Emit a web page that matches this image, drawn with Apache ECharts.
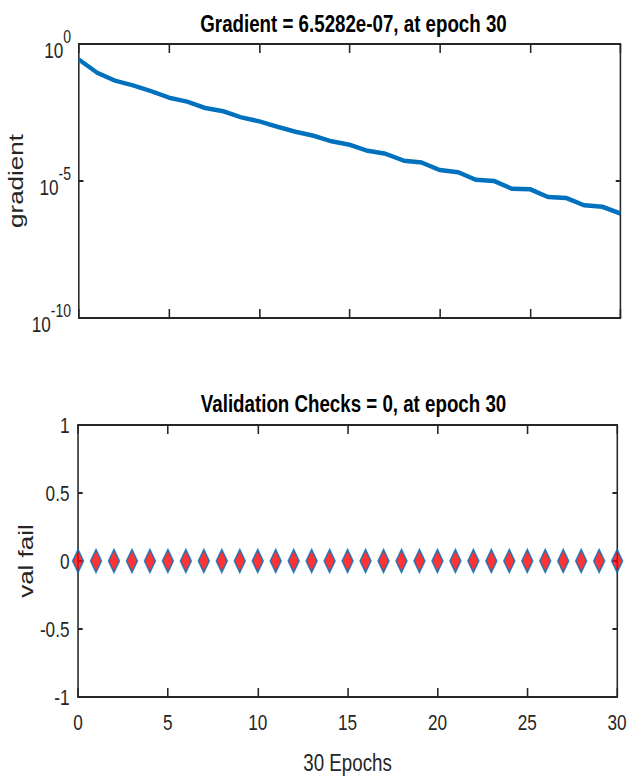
<!DOCTYPE html>
<html>
<head>
<meta charset="utf-8">
<title>Gradient / Validation Checks</title>
<script src="https://cdn.jsdelivr.net/npm/echarts@6/dist/echarts.min.js"></script>
<style>
    body { margin: 0; background: #fff; overflow: hidden; }
    /* the reference figure is squeezed horizontally, so draw wide and squeeze */
    #main { width: 806px; height: 776px; transform: scaleX(0.7804); transform-origin: 0 0; }
</style>
</head>
<body>
<div id="main"></div>
<script>
    var epochs = [0, 1, 2, 3, 4, 5, 6, 7, 8, 9, 10, 11, 12, 13, 14, 15,
        16, 17, 18, 19, 20, 21, 22, 23, 24, 25, 26, 27, 28, 29, 30];
    var gradient = [0.27, 0.091, 0.046, 0.031, 0.019, 0.011, 0.0079, 0.0046, 0.0035, 0.0021,
        0.0015, 9.5e-4, 6.3e-4, 4.5e-4, 2.8e-4, 2.1e-4, 1.26e-4, 9.8e-5, 5.5e-5, 4.7e-5,
        2.5e-5, 2.1e-5, 1.1e-5, 1.0e-5, 5.2e-6, 5.0e-6, 2.6e-6, 2.4e-6, 1.3e-6, 1.15e-6, 6.5282e-7];
    var valFail = [0, 0, 0, 0, 0, 0, 0, 0, 0, 0, 0, 0, 0, 0, 0, 0,
        0, 0, 0, 0, 0, 0, 0, 0, 0, 0, 0, 0, 0, 0, 0];
    var xTicks = [0, 5, 10, 15, 20, 25, 30];
    var gradTicks = [1e-10, 1e-5, 1];
    var valTicks = [-1, -0.5, 0, 0.5, 1];

    var font = 'Liberation Sans, Arial, sans-serif';
    var ink = '#262626';
    var box = { show: true, onZero: false, lineStyle: { color: ink, width: 2 } };

    function xAxisOf(grid, pos, labels) {
        return {
            gridIndex: grid, type: 'value', position: pos,
            min: xTicks[0], max: xTicks[xTicks.length - 1], interval: xTicks[1] - xTicks[0],
            axisLine: box,
            axisTick: { inside: true, length: 9, lineStyle: { color: ink, width: 2 } },
            axisLabel: { show: labels, margin: 14, fontSize: 22, fontFamily: font, color: ink },
            splitLine: { show: false },
            name: labels ? '30 Epochs' : '', nameLocation: 'middle', nameGap: 54,
            nameMoveOverlap: false,
            nameTextStyle: { fontSize: 24, fontFamily: font, color: ink }
        };
    }

    var myChart = echarts.init(document.getElementById('main'), null, { renderer: 'svg' });

    var option = {
        animation: false,
        title: [{
            text: 'Gradient = 6.5282e-07, at epoch 30',
            left: 448, top: 7, textAlign: 'center',
            textStyle: { fontSize: 24, fontWeight: 'bold', fontFamily: font, color: '#000' }
        }, {
            text: 'Validation Checks = 0, at epoch 30',
            left: 448, top: 387, textAlign: 'center',
            textStyle: { fontSize: 24, fontWeight: 'bold', fontFamily: font, color: '#000' }
        }],
        grid: [
            { left: 100, right: 11, top: 44, height: 274 },
            { left: 100, right: 11, top: 425, height: 272 }
        ],
        xAxis: [
            xAxisOf(0, 'bottom', false),
            xAxisOf(0, 'top', false),
            xAxisOf(1, 'bottom', true),
            xAxisOf(1, 'top', false)
        ],
        yAxis: [{
            gridIndex: 0, type: 'log', logBase: 10, position: 'left',
            min: gradTicks[0], max: gradTicks[gradTicks.length - 1], interval: 5,
            axisLine: box,
            axisTick: { inside: true, length: 6, lineStyle: { color: ink, width: 2 } },
            axisLabel: {
                margin: 10,
                formatter: function (v) {
                    return '{h| }{b|10}{s|' + Math.round(Math.log10(v)) + '}';
                },
                rich: {
                    h: { fontSize: 1, lineHeight: 34 },
                    b: { fontSize: 22, lineHeight: 22, verticalAlign: 'bottom', fontFamily: font, color: ink },
                    s: { fontSize: 18, lineHeight: 18, verticalAlign: 'top', fontFamily: font, color: ink }
                }
            },
            splitLine: { show: false },
            name: 'gradient', nameLocation: 'middle', nameGap: 67, nameMoveOverlap: false,
            nameTextStyle: { fontSize: 26, fontFamily: font, color: ink }
        }, {
            gridIndex: 0, type: 'log', logBase: 10, position: 'right',
            min: gradTicks[0], max: gradTicks[gradTicks.length - 1], interval: 5,
            axisLine: box,
            axisTick: { inside: true, length: 6, lineStyle: { color: ink, width: 2 } },
            axisLabel: { show: false },
            splitLine: { show: false }
        }, {
            gridIndex: 1, type: 'value', position: 'left',
            min: valTicks[0], max: valTicks[valTicks.length - 1], interval: valTicks[1] - valTicks[0],
            axisLine: box,
            axisTick: { inside: true, length: 6, lineStyle: { color: ink, width: 2 } },
            axisLabel: { margin: 11, fontSize: 22, fontFamily: font, color: ink },
            splitLine: { show: false },
            name: 'val fail', nameLocation: 'middle', nameGap: 53, nameMoveOverlap: false,
            nameTextStyle: { fontSize: 26, fontFamily: font, color: ink }
        }, {
            gridIndex: 1, type: 'value', position: 'right',
            min: valTicks[0], max: valTicks[valTicks.length - 1], interval: valTicks[1] - valTicks[0],
            axisLine: box,
            axisTick: { inside: true, length: 6, lineStyle: { color: ink, width: 2 } },
            axisLabel: { show: false },
            splitLine: { show: false }
        }],
        series: [{
            type: 'line', xAxisIndex: 0, yAxisIndex: 0,
            data: epochs.map(function (e, i) { return [e, gradient[i]]; }),
            showSymbol: false,
            lineStyle: { color: '#0072BD', width: 4.5 }
        }, {
            type: 'scatter', xAxisIndex: 2, yAxisIndex: 2, clip: false,
            data: epochs.map(function (e, i) { return [e, valFail[i]]; }),
            symbol: 'diamond', symbolSize: [14, 23],
            itemStyle: { color: '#FF0000', borderColor: '#0072BD', borderWidth: 2 }
        }]
    };

    myChart.setOption(option);
</script>
</body>
</html>
